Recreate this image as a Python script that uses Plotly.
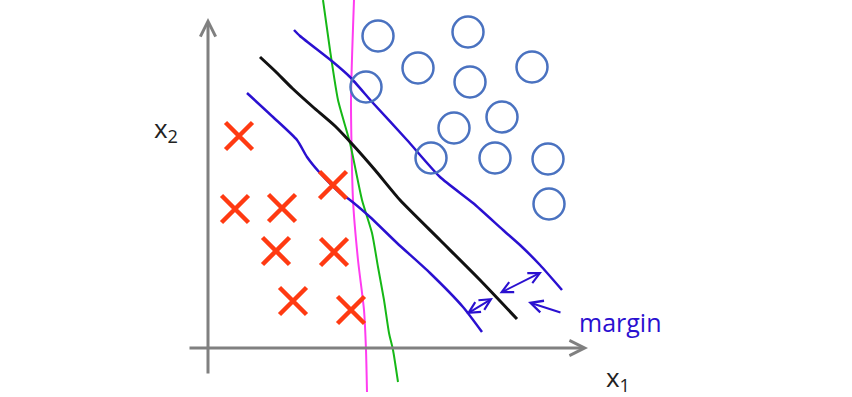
import plotly.graph_objects as go

# Class samples (x1, x2)
cross_x1 = [31, 27, 74, 125, 68, 126, 85, 143]
cross_x2 = [212, 139, 140, 163, 97, 96, 47, 38]
circle_x1 = [170, 260, 210, 262, 324, 158, 294, 246, 223, 287, 340, 341]
circle_x2 = [312, 316, 280, 266, 281, 261, 231, 220, 190, 190, 189, 144]

# Hand-drawn decision boundaries
magenta_x1 = [146, 143, 145, 150, 156, 158, 159]
magenta_x2 = [348, 248, 148, 88, 38, -2, -44]
green_x1 = [115, 122, 130, 142, 154, 164, 170, 176, 181, 185, 190]
green_x2 = [348, 298, 248, 205, 148, 115, 81, 48, 15, -2, -34]
black_x1 = [52, 67, 84, 105, 127, 145, 167, 192, 232, 272, 309]
black_x2 = [291, 277, 260, 241, 222, 203, 178, 148, 108, 68, 29]
upper_x1 = [86, 92, 125, 142, 165, 199, 232, 265, 295, 312, 332, 354]
upper_x2 = [318, 312, 286, 271, 245, 208, 171, 145, 118, 103, 83, 58]
lower_x1 = [39, 65, 89, 99, 112, 132, 142, 162, 189, 222, 255, 274]
lower_x2 = [255, 231, 208, 191, 175, 155, 148, 131, 105, 75, 41, 16]

# Margin arrows: (x_start, y_start, x_end, y_end)
margin_arrows = [(257, 33, 285, 50), (290, 54, 334, 76)]
pointer = (354, 35, 320, 46)

BLUE = "#2a10d0"
fig = go.Figure()

def line(x, y, color, width):
    fig.add_trace(go.Scatter(x=x, y=y, mode="lines",
                             line=dict(color=color, width=width, shape="spline", smoothing=0.6),
                             hoverinfo="skip"))

line(magenta_x1, magenta_x2, "#ff3cf0", 2)
line(green_x1, green_x2, "#16b816", 2)
line(upper_x1, upper_x2, BLUE, 2.5)
line(lower_x1, lower_x2, BLUE, 2.5)
line(black_x1, black_x2, "#111111", 3)

fig.add_trace(go.Scatter(x=cross_x1, y=cross_x2, mode="markers",
                         marker=dict(symbol="x-thin", size=27,
                                     line=dict(color="#ff3a12", width=4.5)),
                         hoverinfo="skip"))
fig.add_trace(go.Scatter(x=circle_x1, y=circle_x2, mode="markers",
                         marker=dict(symbol="circle-open", size=31, color="#4a72c0",
                                     line=dict(color="#4a72c0", width=2.5)),
                         hoverinfo="skip"))

ann = []
# axes
ann.append(dict(x=0, y=330, ax=0, ay=-27, xref="x", yref="y", axref="x", ayref="y",
                text="", showarrow=True, arrowhead=5, arrowsize=1, arrowwidth=3,
                arrowcolor="#808080"))
ann.append(dict(x=380, y=0, ax=-20, ay=0, xref="x", yref="y", axref="x", ayref="y",
                text="", showarrow=True, arrowhead=5, arrowsize=1, arrowwidth=3,
                arrowcolor="#808080"))
for (xs, ys, xe, ye) in margin_arrows:
    ann.append(dict(x=xe, y=ye, ax=xs, ay=ys, xref="x", yref="y", axref="x", ayref="y",
                    text="", showarrow=True, arrowhead=5, startarrowhead=5,
                    arrowside="end+start", arrowsize=1.1, startarrowsize=1.1,
                    arrowwidth=2, arrowcolor=BLUE))
ann.append(dict(x=pointer[2], y=pointer[3], ax=pointer[0], ay=pointer[1],
                xref="x", yref="y", axref="x", ayref="y", text="", showarrow=True,
                arrowhead=5, arrowsize=1.2, arrowwidth=2, arrowcolor=BLUE))
ann.append(dict(x=412, y=26, xref="x", yref="y", text="margin", showarrow=False,
                font=dict(family="Open Sans", size=25, color=BLUE)))
ann.append(dict(x=-42, y=219, xref="x", yref="y", text="x<sub>2</sub>", showarrow=False,
                font=dict(family="Open Sans", size=26, color="#222222")))
ann.append(dict(x=410, y=-30, xref="x", yref="y", text="x<sub>1</sub>", showarrow=False,
                font=dict(family="Open Sans", size=26, color="#222222")))

fig.update_layout(
    width=852, height=397, margin=dict(l=0, r=0, t=0, b=0),
    paper_bgcolor="white", plot_bgcolor="white", showlegend=False,
    xaxis=dict(range=[-208, 644], visible=False, fixedrange=True),
    yaxis=dict(range=[-49, 348], visible=False, fixedrange=True),
    annotations=ann,
)
fig.write_html("out.html")
